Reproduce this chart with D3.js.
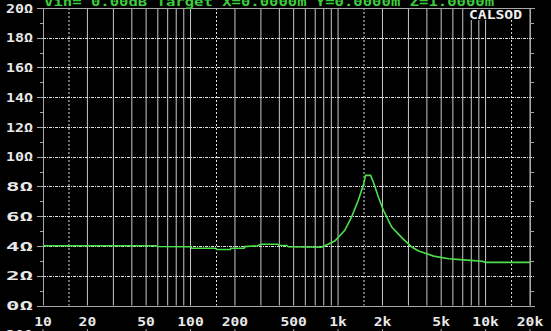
<!DOCTYPE html>
<html>
<head>
<meta charset="utf-8">
<script src="https://cdn.jsdelivr.net/npm/d3@7"></script>
<style>
  html, body { margin: 0; padding: 0; background: #000; }
  svg { display: block; }
  text { font-family: "DejaVu Sans Mono", monospace; font-weight: bold; }
</style>
</head>
<body>
<div id="chart"></div>
<script>
// impedance curve
var freq = [10, 58, 60, 100, 102, 148, 150, 186, 188, 231, 234, 285, 300, 390, 400, 450, 460,
  770, 850, 950, 1111, 1234, 1371, 1483, 1537, 1663, 1734, 1876, 2029, 2311, 2703, 3162,
  3512, 4000, 4443, 5623, 7115, 9480, 10000, 20000];
var ohms = [4.02, 4.02, 3.97, 3.95, 3.85, 3.85, 3.76, 3.76, 3.85, 3.86, 3.96, 4.02, 4.12, 4.12, 4.05, 4.03, 3.95,
  3.92, 4.1, 4.33, 5.05, 5.94, 7.07, 8.08, 8.75, 8.75, 8.3, 7.29, 6.4, 5.27, 4.56, 3.93,
  3.66, 3.48, 3.32, 3.14, 3.07, 2.98, 2.9, 2.9];

var xLabels = [10, 20, 50, 100, 200, 500, 1000, 2000, 5000, 10000, 20000];
var xSolid = [20, 30, 40, 50, 60, 70, 80, 90, 100, 200, 300, 400, 500, 600, 700, 800, 900,
  1000, 2000, 3000, 4000, 5000, 6000, 7000, 8000, 9000, 10000, 20000];
var xDotted = [15, 150, 1500, 15000];
var yMajor = [0, 2, 4, 6, 8, 10, 12, 14, 16, 18, 20];
var yMinor = [1, 3, 5, 7, 9, 11, 13, 15, 17, 19];
var title = "Vin= 0.00dB  Target X=0.0000m Y=0.0000m Z=1.0000m";

var width = 551, height = 331;

var svg = d3.select("#chart").append("svg")
  .attr("width", width)
  .attr("height", height)

svg.append("rect").attr("width", width).attr("height", height).attr("fill", "#000")

var x = d3.scaleLog().domain([10, 20000]).range([43, 530])
var y = d3.scaleLinear().domain([0, 20]).range([305.5, 8])

var fmt = function(d) { return d >= 1000 ? (d / 1000) + "k" : d + ""; }

// vertical grid
svg.append("g").selectAll("line")
  .data(xSolid).enter().append("line")
  .attr("x1", d => x(d)).attr("x2", d => x(d))
  .attr("y1", y(20)).attr("y2", y(0))
  .attr("stroke", "#c8c8c8").attr("stroke-width", 1)

svg.append("g").selectAll("line")
  .data(xDotted).enter().append("line")
  .attr("x1", d => x(d)).attr("x2", d => x(d))
  .attr("y1", y(20)).attr("y2", y(0))
  .attr("stroke", "#e0e0e0").attr("stroke-width", 1)
  .attr("stroke-dasharray", "2,2")

// horizontal grid
svg.append("g").selectAll("line")
  .data(yMajor.filter(d => d > 0 && d < 20)).enter().append("line")
  .attr("x1", x(10)).attr("x2", 535)
  .attr("y1", d => Math.round(y(d)) + 0.5).attr("y2", d => Math.round(y(d)) + 0.5)
  .attr("stroke", "#e0e0e0").attr("stroke-width", 1)
  .attr("stroke-dasharray", "3,1,1,1")

// frame
var frame = svg.append("g").attr("stroke", "#a8a8a8").attr("stroke-width", 1)
frame.append("line").attr("x1", x(10)).attr("x2", 535).attr("y1", Math.round(y(20)) + 0.5).attr("y2", Math.round(y(20)) + 0.5)
frame.append("line").attr("x1", x(10)).attr("x2", 535).attr("y1", Math.round(y(0)) + 0.5).attr("y2", Math.round(y(0)) + 0.5)
frame.append("line").attr("x1", 43.5).attr("x2", 43.5).attr("y1", y(20)).attr("y2", y(0))
frame.append("line").attr("x1", 530.5).attr("x2", 530.5).attr("y1", y(20)).attr("y2", y(0))

// left ticks
frame.selectAll(".maj").data(yMajor).enter().append("line")
  .attr("x1", 37).attr("x2", 43)
  .attr("y1", d => Math.round(y(d)) + 0.5).attr("y2", d => Math.round(y(d)) + 0.5)
frame.selectAll(".minL").data(yMinor).enter().append("line")
  .attr("x1", 40).attr("x2", 43)
  .attr("y1", d => Math.round(y(d)) + 0.5).attr("y2", d => Math.round(y(d)) + 0.5)
frame.selectAll(".minR").data(yMinor).enter().append("line")
  .attr("x1", 531).attr("x2", 534)
  .attr("y1", d => Math.round(y(d)) + 0.5).attr("y2", d => Math.round(y(d)) + 0.5)

// y labels
svg.append("g").selectAll("text")
  .data(yMajor).enter().append("text")
  .attr("x", 33).attr("y", d => y(d) + 4.5)
  .attr("text-anchor", "end")
  .attr("fill", "#e8e8e8").attr("font-size", 12)
  .attr("textLength", 27).attr("lengthAdjust", "spacingAndGlyphs")
  .text(d => d + "Ω")

// x labels
svg.append("g").selectAll("text")
  .data(xLabels).enter().append("text")
  .attr("x", d => x(d)).attr("y", 326)
  .attr("text-anchor", "middle")
  .attr("fill", "#e8e8e8").attr("font-size", 12)
  .attr("textLength", d => fmt(d).length * 8.8).attr("lengthAdjust", "spacingAndGlyphs")
  .text(fmt)

// start of the next panel, cut off by the bottom edge
svg.append("g").selectAll("line")
  .data(xLabels).enter().append("line")
  .attr("x1", d => x(d)).attr("x2", d => x(d))
  .attr("y1", 329).attr("y2", 331)
  .attr("stroke", "#a8a8a8")
svg.append("text").attr("x", 33).attr("y", 338.5)
  .attr("text-anchor", "end").attr("fill", "#e8e8e8").attr("font-size", 12)
  .attr("textLength", 27).attr("lengthAdjust", "spacingAndGlyphs")
  .text("20Ω")

// title, cut off at the top
svg.append("text").attr("x", 44).attr("y", 6)
  .attr("fill", "#3ccc3c").attr("font-size", 12)
  .attr("textLength", 450).attr("lengthAdjust", "spacingAndGlyphs")
  .text(title)

// CALSOD tag
svg.append("rect").attr("x", 465).attr("y", 9).attr("width", 63).attr("height", 11).attr("fill", "#000")
svg.append("text").attr("x", 469).attr("y", 18.5)
  .attr("fill", "#f0f0f0").attr("font-size", 12)
  .attr("textLength", 53).attr("lengthAdjust", "spacingAndGlyphs")
  .text("CALSOD")

// impedance curve
var line = d3.line()
  .x(d => x(d[0]))
  .y(d => y(d[1]))

svg.append("path")
  .datum(d3.zip(freq, ohms))
  .attr("fill", "none")
  .attr("stroke", "#4be04b")
  .attr("stroke-width", 1.6)
  .attr("d", line)
</script>
</body>
</html>
